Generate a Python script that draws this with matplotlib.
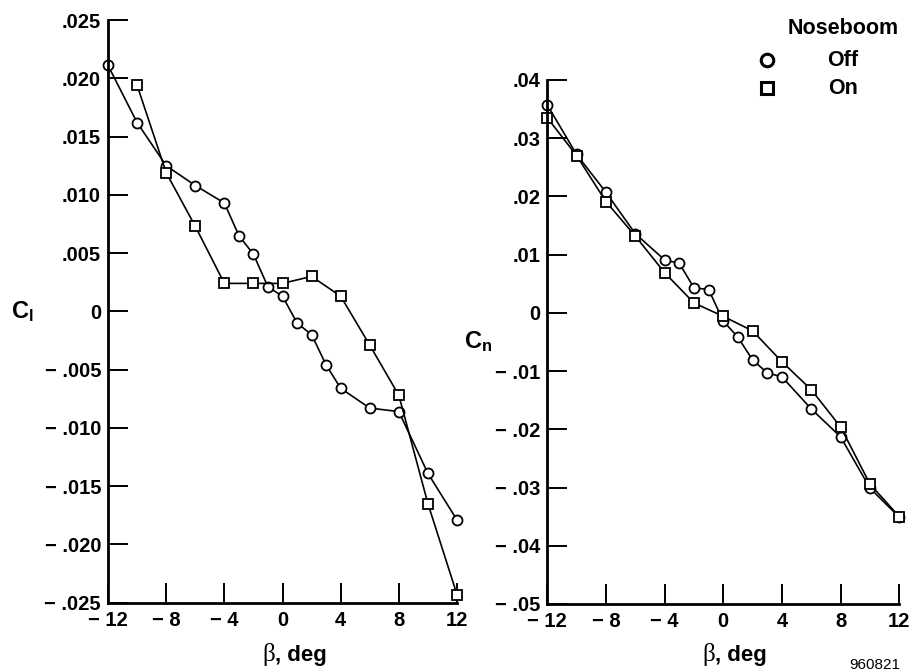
import matplotlib
matplotlib.use('Agg')
import matplotlib.pyplot as plt
from matplotlib.lines import Line2D

plt.rcParams['font.family'] = ['Liberation Sans', 'DejaVu Sans']
plt.rcParams['font.weight'] = 'bold'
plt.rcParams['mathtext.fontset'] = 'custom'
plt.rcParams['mathtext.rm'] = 'Liberation Sans:bold'
plt.rcParams['mathtext.it'] = 'Liberation Sans:bold'
plt.rcParams['mathtext.bf'] = 'Liberation Sans:bold'

# rolling moment, noseboom off / on
beta_cl_off = [-12, -10, -8, -6, -4, -3, -2, -1, 0, 1, 2, 3, 4, 6, 8, 10, 12]
cl_off = [0.0211, 0.0162, 0.0125, 0.0108, 0.0093, 0.0065, 0.0049, 0.0021, 0.0013,
          -0.0010, -0.0020, -0.0046, -0.0066, -0.0083, -0.0086, -0.0139, -0.0179]
beta_cl_on = [-10, -8, -6, -4, -2, 0, 2, 4, 6, 8, 10, 12]
cl_on = [0.0194, 0.0119, 0.0073, 0.0024, 0.0024, 0.0024, 0.0030, 0.0013,
         -0.0029, -0.0072, -0.0165, -0.0243]

# yawing moment, noseboom off / on
beta_cn_off = [-12, -10, -8, -6, -4, -3, -2, -1, 0, 1, 2, 3, 4, 6, 8, 10, 12]
cn_off = [0.0357, 0.0272, 0.0207, 0.0136, 0.0091, 0.0085, 0.0043, 0.0040, -0.0014,
          -0.0042, -0.0081, -0.0103, -0.0110, -0.0165, -0.0213, -0.0301, -0.0351]
beta_cn_on = [-12, -10, -8, -6, -4, -2, 0, 2, 4, 6, 8, 10, 12]
cn_on = [0.0335, 0.0270, 0.0191, 0.0132, 0.0069, 0.0017, -0.0006, -0.0031,
         -0.0084, -0.0132, -0.0196, -0.0294, -0.0350]

xticks = [-12, -8, -4, 0, 4, 8, 12]
xtick_labels = ['\u2212 12', '\u2212 8', '\u2212 4', '0', '4', '8', '12']
cl_ticks = [0.025, 0.020, 0.015, 0.010, 0.005, 0, -0.005, -0.010, -0.015, -0.020, -0.025]
cl_tick_labels = ['.025', '.020', '.015', '.010', '.005', '0', '\u2212 .005', '\u2212 .010',
                  '\u2212 .015', '\u2212 .020', '\u2212 .025']
cn_ticks = [0.04, 0.03, 0.02, 0.01, 0, -0.01, -0.02, -0.03, -0.04, -0.05]
cn_tick_labels = ['.04', '.03', '.02', '.01', '0', '\u2212 .01', '\u2212 .02', '\u2212 .03',
                  '\u2212 .04', '\u2212 .05']

fig = plt.figure(figsize=(9.14, 6.72), dpi=100)
ax1 = fig.add_axes([0.1182, 0.1031, 0.3818, 0.8671])
ax2 = fig.add_axes([0.5988, 0.1012, 0.3851, 0.7798])

line_kw = dict(color='black', lw=1.2, markerfacecolor='white', markeredgecolor='black',
               markeredgewidth=1.3, clip_on=False)


def style(ax, yticks, ylabels, ylim):
    ax.set_xlim(-12, 12)
    ax.set_ylim(*ylim)
    ax.spines['top'].set_visible(False)
    ax.spines['right'].set_visible(False)
    ax.spines['left'].set_linewidth(2.0)
    ax.spines['bottom'].set_linewidth(2.0)
    ax.set_xticks(xticks)
    ax.set_xticklabels(xtick_labels)
    ax.set_yticks(yticks)
    ax.set_yticklabels(ylabels)
    ax.tick_params(axis='both', direction='in', length=14.5, width=1.4, labelsize=14.5)
    ax.tick_params(axis='y', pad=5)
    ax.tick_params(axis='x', pad=6)


ax1.plot(beta_cl_off, cl_off, marker='o', ms=7.2, **line_kw)
ax1.plot(beta_cl_on, cl_on, marker='s', ms=6.8, **line_kw)
style(ax1, cl_ticks, cl_tick_labels, (-0.025, 0.025))

ax2.plot(beta_cn_off, cn_off, marker='o', ms=7.2, **line_kw)
ax2.plot(beta_cn_on, cn_on, marker='s', ms=6.8, **line_kw)
style(ax2, cn_ticks, cn_tick_labels, (-0.05, 0.04))

W, H = 914, 672


def fx(x):
    return x / W


def fy(y):
    return 1 - y / H


# axis labels
fig.text(fx(22), fy(312), r'$\mathregular{C_l}$', fontsize=17, ha='center', va='center')
fig.text(fx(478), fy(342), r'$\mathregular{C_n}$', fontsize=17, ha='center', va='center')
for cx in (285, 725):
    fig.text(fx(cx - 10), fy(654), '\u03b2', fontsize=18, family='Liberation Serif',
             weight='normal', ha='right', va='center')
    fig.text(fx(cx - 10), fy(656), ', deg', fontsize=16, ha='left', va='center')
fig.text(fx(875), fy(665), '960821', fontsize=11, weight='normal', ha='center', va='center')

# legend
fig.text(fx(843), fy(29), 'Noseboom', fontsize=15.5, ha='center', va='center')
fig.text(fx(843), fy(60), 'Off', fontsize=15.5, ha='center', va='center')
fig.text(fx(843), fy(88), 'On', fontsize=15.5, ha='center', va='center')
fig.add_artist(Line2D([fx(767)], [fy(60)], marker='o', ms=9, mfc='white', mec='black',
                      mew=2.2, transform=fig.transFigure))
fig.add_artist(Line2D([fx(767)], [fy(88)], marker='s', ms=8.5, mfc='white', mec='black',
                      mew=2.2, transform=fig.transFigure))

fig.savefig('out.png', dpi=100)
